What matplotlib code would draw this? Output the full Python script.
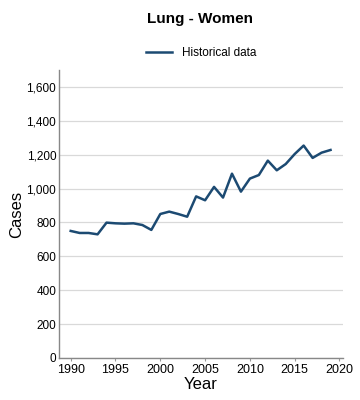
import matplotlib
matplotlib.use("Agg")
import matplotlib.pyplot as plt

plt.rcParams["font.family"] = ["Liberation Sans", "DejaVu Sans"]

# Historical lung cancer cases, women
years = list(range(1990, 2020))
cases = [750, 738, 738, 730, 799, 795, 793, 795, 785, 756,
         850, 864, 850, 834, 954, 931, 1010, 947, 1088, 982,
         1059, 1080, 1165, 1108, 1145, 1204, 1254, 1181, 1212, 1228]
x_ticks = [1990, 1995, 2000, 2005, 2010, 2015, 2020]
y_ticks = [0, 200, 400, 600, 800, 1000, 1200, 1400, 1600]

fig = plt.figure(figsize=(3.6, 4.0), dpi=100)
ax = fig.add_axes([0.164, 0.105, 0.789, 0.72])

ax.plot(years, cases, color="#1c4a72", lw=1.8, label="Historical data")

ax.set_xlim(1988.7, 2020.4)
ax.set_ylim(0, 1700)
ax.set_xticks(x_ticks)
ax.set_yticks(y_ticks)
ax.set_yticklabels([f"{v:,}" for v in y_ticks])
ax.tick_params(axis="both", labelsize=8.5, length=0, pad=2)
ax.tick_params(axis="x", labelsize=9, length=2, color="#999999")

ax.grid(axis="y", color="#d9d9d9", lw=0.9)
ax.set_axisbelow(True)
for s in ["top", "right"]:
    ax.spines[s].set_visible(False)
for s in ["left", "bottom"]:
    ax.spines[s].set_color("#888888")
    ax.spines[s].set_linewidth(1.0)

ax.set_xlabel("Year", fontsize=12, labelpad=1)
ax.set_ylabel("Cases", fontsize=12, labelpad=2)

fig.suptitle("Lung - Women", x=0.555, y=0.97, fontsize=11, fontweight="bold")
ax.legend(loc="lower center", bbox_to_anchor=(0.5, 1.0), frameon=False,
          fontsize=8.5, handlelength=2.2)

fig.savefig("out.png", dpi=100)
